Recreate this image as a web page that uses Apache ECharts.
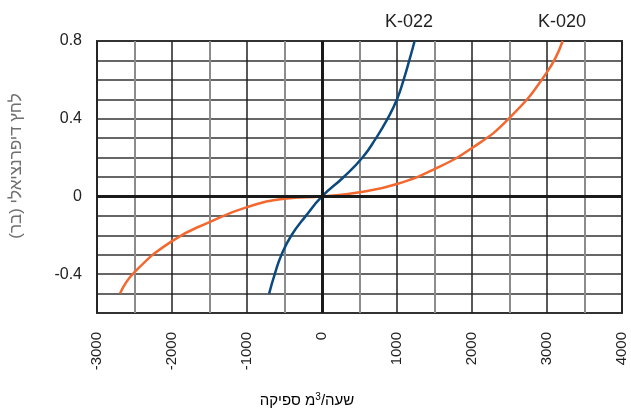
<!DOCTYPE html>
<html>
<head>
<meta charset="utf-8">
<script src="https://cdn.jsdelivr.net/npm/echarts@6/dist/echarts.min.js"></script>
<style>html,body{margin:0;padding:0;background:#fff}#c{width:631px;height:418px}</style>
</head>
<body>
<div id="c"></div>
<script>
// K-022 curve
const k022X = [-705, -630, -540, -407, -215, 0, 290, 540, 720, 875, 1000, 1088, 1164, 1235];
const k022Y = [-0.5, -0.4, -0.3, -0.2, -0.1, 0, 0.1, 0.2, 0.3, 0.4, 0.5, 0.6, 0.7, 0.8];
// K-020 curve
const k020X = [-2693, -2500, -2000, -1500, -1000, -500, 0, 500, 1000, 1500, 2000, 2500, 3000, 3209];
const k020Y = [-0.5, -0.39, -0.23, -0.132, -0.055, -0.012, 0, 0.021, 0.064, 0.141, 0.249, 0.404, 0.64, 0.8];
const seriesNames = ['K-022', 'K-020'];
const yTitle = 'לחץ דיפרנציאלי (בר)';
// x-axis title pieces: word, unit, superscript, rest
const xTitleParts = ['ספיקה', 'מ', '3', '/שעה'];

const FONT = "'Liberation Sans', Arial, sans-serif";
const pairs = (xs, ys) => xs.map((x, i) => [x, ys[i]]);

const chart = echarts.init(document.getElementById('c'), null, {renderer: 'canvas'});
chart.setOption({
  animation: false,
  backgroundColor: '#fff',
  grid: {left: 97, right: 9, top: 41, bottom: 105, show: true, borderColor: '#333', borderWidth: 2,
         containLabel: false, outerBoundsMode: 'none'},
  xAxis: {
    type: 'value', min: -3000, max: 4000, interval: 1000,
    axisLine: {show: false}, axisTick: {show: false},
    axisLabel: {rotate: 90, margin: 19, fontSize: 15, color: '#222', fontFamily: FONT,
                formatter: v => String(v)},
    splitLine: {show: true, lineStyle: {color: '#222', width: 1.5}},
    minorTick: {show: false, splitNumber: 2},
    minorSplitLine: {show: true, lineStyle: {color: '#8c8c8c', width: 2}}
  },
  yAxis: {
    type: 'value', min: -0.6, max: 0.8, interval: 0.1,
    axisLine: {show: false}, axisTick: {show: false},
    axisLabel: {
      margin: 15, fontSize: 16, color: '#222', fontFamily: FONT,
      formatter: v => { const t = Math.round(v * 10); return (t % 4 === 0) ? String(t / 10) : ''; }
    },
    splitLine: {show: true, lineStyle: {color: '#333', width: 1.5}}
  },
  graphic: [
    {type: 'text', x: 409, y: 22, style: {text: seriesNames[0], font: "18px " + FONT, fill: '#222', align: 'center', verticalAlign: 'middle'}},
    {type: 'text', x: 562, y: 22, style: {text: seriesNames[1], font: "18px " + FONT, fill: '#222', align: 'center', verticalAlign: 'middle'}},
    {type: 'text', x: 16, y: 166, rotation: Math.PI / 2, style: {text: yTitle, font: "17px " + FONT, fill: '#707070', align: 'center', verticalAlign: 'middle'}},
    {type: 'text', x: 307, y: 401, style: {
      text: '{a|' + xTitleParts[0] + ' }{a|' + xTitleParts[1] + '}{s|' + xTitleParts[2] + '}{a|' + xTitleParts[3] + '}',
      align: 'center', verticalAlign: 'middle',
      rich: {
        a: {fontSize: 15, fontFamily: FONT, color: '#555', lineHeight: 18},
        s: {fontSize: 10, fontFamily: FONT, color: '#555', verticalAlign: 'top', lineHeight: 18, padding: [0, 0, 6, 0]}
      }
    }}
  ],
  series: [
    {
      name: seriesNames[0], type: 'line', smooth: 0.5, showSymbol: false, z: 3,
      data: pairs(k022X, k022Y),
      lineStyle: {color: '#0b4a7e', width: 2.5}, itemStyle: {color: '#0b4a7e'},
      markLine: {
        silent: true, symbol: 'none', label: {show: false}, animation: false,
        lineStyle: {color: '#1a1a1a', width: 3, type: 'solid'},
        data: [{xAxis: 0}, {yAxis: 0}]
      }
    },
    {
      name: seriesNames[1], type: 'line', smooth: 0.5, showSymbol: false, z: 3,
      data: pairs(k020X, k020Y),
      lineStyle: {color: '#f4682f', width: 2.5}, itemStyle: {color: '#f4682f'}
    }
  ]
});
</script>
</body>
</html>
